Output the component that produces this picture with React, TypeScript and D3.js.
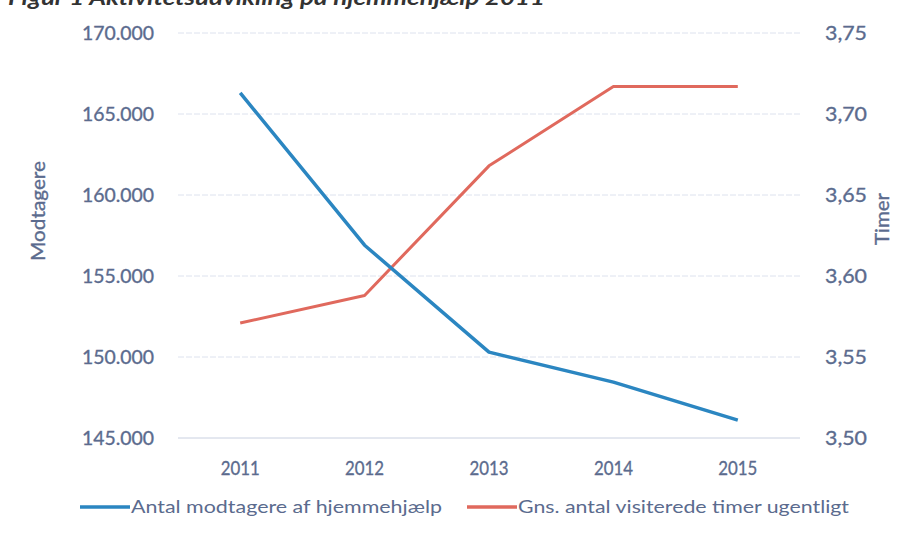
import React, { useEffect, useRef } from 'react';
import * as d3 from 'd3';

const years = ['2011', '2012', '2013', '2014', '2015'];
const modtagere = [166300, 156900, 150300, 148450, 146100];
const timer = [3.571, 3.588, 3.668, 3.717, 3.717];
const leftTicks = [145000, 150000, 155000, 160000, 165000, 170000];
const rightTicks = [3.5, 3.55, 3.6, 3.65, 3.7, 3.75];
const seriesNames = ['Antal modtagere af hjemmehjælp', 'Gns. antal visiterede timer ugentligt'];

const App: React.FC = () => {
  const ref = useRef<SVGSVGElement>(null);

  useEffect(() => {
    if (!ref.current) return;
    const svg = d3.select(ref.current);
    svg.selectAll('*').remove();

    const W = 900, H = 539;
    const left = 178, right = 800, top = 33, bottom = 438;
    const textCol = '#5b6b8e';
    const blue = '#2b86c1';
    const red = '#e0695d';
    const font = 'Lato, "Open Sans", sans-serif';

    const da = d3.formatLocale({ decimal: ',', thousands: '.', grouping: [3], currency: ['', ' kr.'] });
    const fmtL = da.format(',.0f');
    const fmtR = da.format('.2f');

    svg.append('rect').attr('width', W).attr('height', H).attr('fill', '#fff');

    // titel, skåret af i toppen som i originalen
    svg.append('text')
      .attr('x', 8).attr('y', 5)
      .attr('font-family', font).attr('font-size', 21)
      .attr('font-style', 'italic').attr('font-weight', 700)
      .attr('fill', '#333')
      .attr('textLength', 537).attr('lengthAdjust', 'spacingAndGlyphs')
      .text('Figur 1 Aktivitetsudvikling på hjemmehjælp 2011');

    const x = d3.scalePoint<string>().domain(years).range([left, right]).padding(0.5);
    const yL = d3.scaleLinear().domain([145000, 170000]).range([bottom, top]);
    const yR = d3.scaleLinear().domain([3.5, 3.75]).range([bottom, top]);

    // gitterlinjer
    svg.append('g').selectAll('line')
      .data(leftTicks)
      .enter().append('line')
      .attr('x1', left).attr('x2', right)
      .attr('y1', d => yL(d)).attr('y2', d => yL(d))
      .attr('stroke', d => d === 145000 ? '#c9d0e0' : '#dde2ee')
      .attr('stroke-width', 1)
      .attr('stroke-dasharray', d => d === 145000 ? null : '6 2');

    const tickStyle = (sel: any) => sel
      .attr('font-family', font).attr('font-size', 20).attr('font-weight', 400)
      .attr('fill', textCol).attr('stroke', textCol).attr('stroke-width', 0.35);

    // venstre akse
    svg.append('g').selectAll('text')
      .data(leftTicks)
      .enter().append('text')
      .attr('x', 154).attr('y', d => yL(d) + 7)
      .attr('text-anchor', 'end')
      .call(tickStyle)
      .attr('textLength', 72).attr('lengthAdjust', 'spacingAndGlyphs')
      .text(d => fmtL(d));

    // højre akse
    svg.append('g').selectAll('text')
      .data(rightTicks)
      .enter().append('text')
      .attr('x', 825).attr('y', d => yR(d) + 7)
      .call(tickStyle)
      .attr('textLength', 42).attr('lengthAdjust', 'spacingAndGlyphs')
      .text(d => fmtR(d));

    // x-akse
    svg.append('g').selectAll('text')
      .data(years)
      .enter().append('text')
      .attr('x', d => x(d)!).attr('y', 475)
      .attr('text-anchor', 'middle')
      .call(tickStyle)
      .attr('textLength', 39).attr('lengthAdjust', 'spacingAndGlyphs')
      .text(d => d);

    // aksetitler
    svg.append('text')
      .attr('transform', 'translate(45,211) rotate(-90)')
      .attr('text-anchor', 'middle')
      .call(tickStyle)
      .attr('font-size', 19)
      .attr('textLength', 100).attr('lengthAdjust', 'spacingAndGlyphs')
      .text('Modtagere');

    svg.append('text')
      .attr('transform', 'translate(889,219) rotate(-90)')
      .attr('text-anchor', 'middle')
      .call(tickStyle)
      .attr('font-size', 19)
      .attr('textLength', 52).attr('lengthAdjust', 'spacingAndGlyphs')
      .text('Timer');

    // linjer
    const lineL = d3.line<number>().x((_, i) => x(years[i])!).y(d => yL(d));
    const lineR = d3.line<number>().x((_, i) => x(years[i])!).y(d => yR(d));

    svg.append('path').datum(timer)
      .attr('d', lineR).attr('fill', 'none')
      .attr('stroke', red).attr('stroke-width', 3).attr('stroke-linejoin', 'round');

    svg.append('path').datum(modtagere)
      .attr('d', lineL).attr('fill', 'none')
      .attr('stroke', blue).attr('stroke-width', 3.5).attr('stroke-linejoin', 'round');

    // forklaring
    const legend = [
      { name: seriesNames[0], color: blue, x0: 80, w: 311 },
      { name: seriesNames[1], color: red, x0: 467, w: 331 },
    ];
    const lg = svg.append('g').selectAll('g').data(legend).enter().append('g');
    lg.append('line')
      .attr('x1', d => d.x0).attr('x2', d => d.x0 + 50)
      .attr('y1', 507).attr('y2', 507)
      .attr('stroke', d => d.color).attr('stroke-width', 3.5);
    lg.append('text')
      .attr('x', d => d.x0 + 51).attr('y', 513)
      .attr('font-family', font).attr('font-size', 18)
      .attr('fill', textCol)
      .attr('textLength', d => d.w).attr('lengthAdjust', 'spacingAndGlyphs')
      .text(d => d.name);
  }, []);

  return (
    <svg ref={ref} width={900} height={539}
      style={{ position: 'absolute', left: 0, top: 0, display: 'block' }} />
  );
};

export default App;
